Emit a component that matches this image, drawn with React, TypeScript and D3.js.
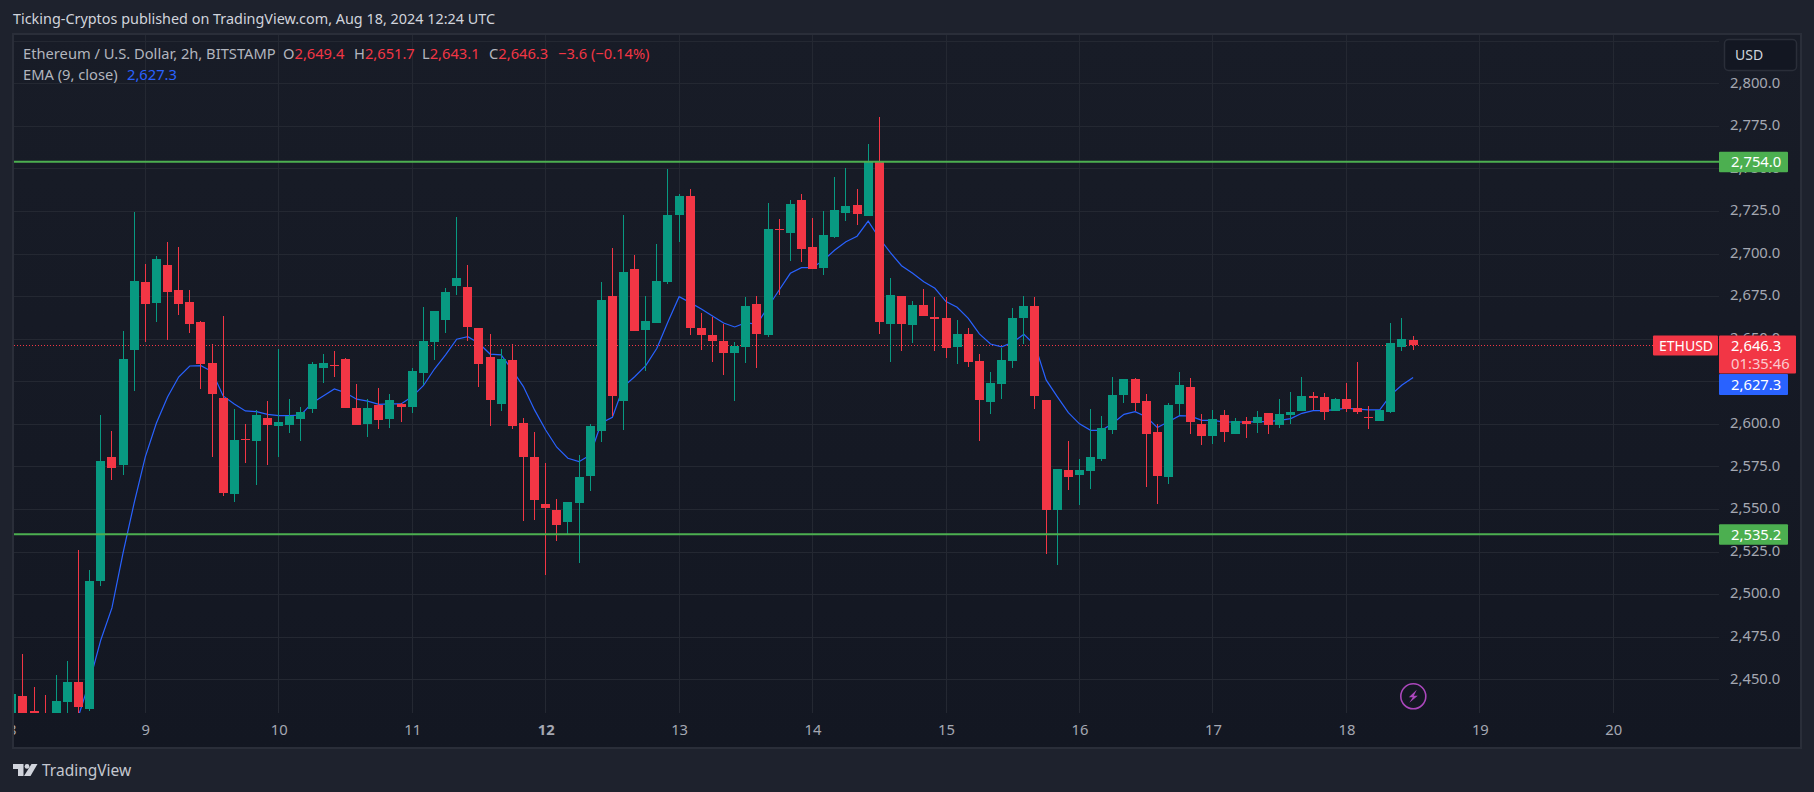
import React, { useEffect, useRef } from 'react';
import * as d3 from 'd3';

// 2h candles, index 0 is Aug 8 00:00, 12 candles a day
const opens = [
  2425, 2440.2, 2431.4, 2428, 2425, 2436.7, 2448.4, 2432.6, 2507.8, 2580.6, 2575.9, 2643.4,
  2683.3, 2671, 2693.3, 2678.6, 2671.6, 2659.8, 2635.8, 2615.2, 2558.8, 2591.1, 2590, 2603.5,
  2598.8, 2599.4, 2602.9, 2608.7, 2632.8, 2634.6, 2638.1, 2609.3, 2600, 2611.1, 2602.9, 2611.7,
  2609.9, 2629.9, 2648.1, 2661, 2681, 2680.4, 2656.3, 2639.3, 2611.7, 2637.5, 2600.5, 2580.6,
  2553, 2549.4, 2542.4, 2553.6, 2569.4, 2595.8, 2675.1, 2613.4, 2691, 2655.1, 2659.2, 2683.3,
  2722.7, 2733.8, 2656.3, 2652.2, 2648.7, 2641.6, 2645.2, 2670.4, 2652.2, 2714.4, 2712.1, 2731.5,
  2703.9, 2691.5, 2709.7, 2723.8, 2728.5, 2722.1, 2754, 2658.7, 2675.1, 2658.1, 2669.8, 2662.8,
  2662.2, 2645.2, 2652.8, 2636.9, 2612.9, 2623.4, 2636.9, 2662.2, 2669.2, 2614, 2549.4, 2572.9,
  2570, 2572.3, 2579.4, 2596.4, 2617, 2626.4, 2613.4, 2595.2, 2568.8, 2611.7, 2621.7, 2600,
  2592.9, 2605.2, 2594, 2601.7, 2600.5, 2606.4, 2599.4, 2605.2, 2607.6, 2616.4, 2615.8, 2607.6,
  2614.6, 2609.3, 2604, 2601.7, 2607, 2645.2, 2649.4,
];
const highs = [
  2441.4, 2464.9, 2445.5, 2440.8, 2452.6, 2460.8, 2526, 2514.2, 2605.2, 2595.8, 2654.6, 2724.4,
  2693.9, 2698.6, 2706.8, 2703.9, 2678.6, 2660.4, 2646.9, 2663.4, 2608.7, 2599.9, 2608.2, 2613.4,
  2644, 2614.6, 2609.9, 2636.3, 2641, 2642.8, 2638.7, 2623.4, 2614.6, 2621.1, 2617.6, 2612.3,
  2632.8, 2668.6, 2666.3, 2679.8, 2721.5, 2693.3, 2656.3, 2652.8, 2644, 2646.9, 2603.5, 2595.2,
  2577, 2555.9, 2554.1, 2581.7, 2600, 2683.3, 2703.3, 2722.7, 2699.2, 2675.1, 2705.6, 2749.7,
  2735, 2737.9, 2665.1, 2662.8, 2658.7, 2648.1, 2674.5, 2675.1, 2729.7, 2720.3, 2731.5, 2735,
  2720.9, 2725, 2745, 2750.3, 2737.9, 2764.4, 2780.2, 2685.7, 2675.1, 2672.2, 2679.2, 2674.5,
  2674.5, 2661, 2656.3, 2641, 2630.5, 2644.6, 2668.1, 2675.1, 2674.5, 2614, 2573.5, 2590,
  2579.4, 2608.7, 2604.6, 2627.5, 2626.4, 2626.9, 2617.6, 2600, 2612.3, 2630.5, 2626.9, 2605.8,
  2608.2, 2608.2, 2603.5, 2604, 2607.6, 2606.4, 2614.6, 2618.7, 2627.5, 2618.7, 2618.1, 2615.2,
  2624, 2636.3, 2610.5, 2608.2, 2659.2, 2662.2, 2651.7,
];
const lows = [
  2420, 2420, 2425, 2420, 2420, 2425, 2425, 2431.6, 2504.8, 2567.1, 2570, 2619.3,
  2648.1, 2659.8, 2649.3, 2663.9, 2653.4, 2620.5, 2580.6, 2557.7, 2554.1, 2577, 2564.1, 2575.9,
  2580.6, 2594.7, 2590, 2606.4, 2624, 2627.5, 2609.3, 2599.4, 2592.3, 2597, 2597.6, 2601.1,
  2606.4, 2622.8, 2637.5, 2653.4, 2675.7, 2648.7, 2621.7, 2598.8, 2607.6, 2597, 2543, 2543.6,
  2511.3, 2531.2, 2534.8, 2518.3, 2560.6, 2589.4, 2604.6, 2596.4, 2654.6, 2631.1, 2659.2, 2682.1,
  2706.8, 2652.2, 2643.4, 2636.3, 2628.7, 2613.4, 2635.8, 2632.8, 2651, 2675.7, 2695.7, 2695.1,
  2691, 2687.4, 2709.1, 2719.1, 2716.8, 2722.1, 2652.8, 2636.3, 2642.8, 2647.5, 2663.4, 2642.8,
  2638.7, 2635.2, 2633.4, 2590, 2605.8, 2614.6, 2632.8, 2646.9, 2608.7, 2523.6, 2517.1, 2561.2,
  2552.4, 2561.8, 2578.2, 2594, 2612.3, 2607.6, 2563, 2553, 2564.7, 2605.2, 2594, 2587.6,
  2588.2, 2589.4, 2594, 2591.7, 2594.7, 2594, 2597.6, 2600, 2607.6, 2608.2, 2602.3, 2607.6,
  2607, 2605.8, 2597, 2601.7, 2606.4, 2642.8, 2643.1,
];
const closes = [
  2441.4, 2425, 2428, 2425, 2437.3, 2448.4, 2433.8, 2507.8, 2578.2, 2574.1, 2638.1, 2683.9,
  2670.4, 2696.8, 2677.5, 2670.4, 2658.7, 2635.2, 2617.6, 2559.4, 2590.5, 2590.5, 2605.2, 2599.4,
  2601.1, 2604.6, 2607, 2635.2, 2635.8, 2634.2, 2609.3, 2599.4, 2609.3, 2602.3, 2614, 2609.9,
  2631.1, 2648.7, 2666.3, 2677.5, 2685.7, 2656.9, 2635.2, 2614, 2638.1, 2598.8, 2580.6, 2555.3,
  2550.6, 2540.6, 2554.1, 2568.8, 2598.8, 2672.8, 2616.4, 2689.2, 2654.6, 2660.4, 2683.9, 2722.7,
  2733.8, 2656.3, 2652.2, 2648.7, 2641.6, 2645.7, 2669.2, 2652.8, 2714.4, 2714, 2729.1, 2702.7,
  2691, 2710.9, 2725.6, 2728, 2723.3, 2754.4, 2659.8, 2675.7, 2658.7, 2669.8, 2663.4, 2661.6,
  2644.6, 2652.8, 2636.3, 2614, 2624, 2637.5, 2662.2, 2669.2, 2616.4, 2549.4, 2573.5, 2568.8,
  2572.9, 2580.6, 2597.6, 2617, 2626.4, 2612.3, 2594, 2569.4, 2611.1, 2622.8, 2601.1, 2592.9,
  2602.9, 2595.2, 2601.7, 2600, 2604, 2599.4, 2605.8, 2607, 2616.4, 2615.2, 2607, 2614.6,
  2608.7, 2607, 2603.6, 2608.2, 2647.5, 2649.9, 2646.3,
];

// EMA(9) starts at candle 6, the earlier part is below the pane
const emaStart = 6;
const emaValues = [
  2428.5, 2449, 2473.1, 2491.9, 2524.2, 2553.6, 2580.6, 2600.5, 2615.8, 2627.5, 2634, 2634.2,
  2630.7, 2616.4, 2611.7, 2607.6, 2607.2, 2605.6, 2604.8, 2604.8, 2605.2, 2612.3, 2616.4, 2620.5,
  2618.3, 2614.5, 2613.4, 2611.5, 2611.7, 2611.7, 2616, 2622.4, 2632.2, 2640.5, 2649.7, 2651.2,
  2647.3, 2641, 2640.5, 2631.6, 2621.9, 2608.2, 2596.4, 2586.3, 2579.8, 2577.8, 2581.7, 2600.5,
  2603.9, 2621.9, 2627.7, 2634.2, 2644.4, 2660, 2674.7, 2671.2, 2667.5, 2663.4, 2659.2, 2656.9,
  2659.4, 2658.5, 2668.8, 2678.6, 2688.4, 2691.7, 2691.7, 2696.2, 2702.1, 2707, 2710.2, 2719.1,
  2709, 2700.5, 2692.9, 2688.4, 2683.5, 2679.6, 2671.8, 2668.5, 2662, 2652.8, 2646.9, 2645.2,
  2647.9, 2652.6, 2646.3, 2625.8, 2616, 2606.6, 2600, 2596.2, 2596.2, 2600.4, 2605.6, 2607.2,
  2604.2, 2597.8, 2601.3, 2604.8, 2604.5, 2602.1, 2602.1, 2601.1, 2601.1, 2601.1, 2601.3, 2601.3,
  2602.1, 2603.1, 2606.2, 2607.8, 2607.8, 2608.4, 2609.2, 2608.7, 2608.2, 2608.2, 2617, 2622.8,
  2627.3,
];

const priceTicks = [2450, 2475, 2500, 2525, 2550, 2575, 2600, 2625, 2650, 2675, 2700, 2725, 2750, 2775, 2800];
const gridPrices = [...priceTicks, 2825];
const dayLabels = ['8', '9', '10', '11', '12', '13', '14', '15', '16', '17', '18', '19', '20'];
const levels = [2754.0, 2535.2];
const lastPrice = 2646.3;
const lastEma = 2627.3;

const FONT = "'Noto Sans', sans-serif";
const UP = '#089981';
const DOWN = '#f23645';
const LEVEL = '#4caf50';
const EMA = '#2962ff';
const GRID = '#242832';

const fmt = d3.format(',.1f');

const App = () => {
  const svgRef = useRef<SVGSVGElement>(null);

  useEffect(() => {
    const svg = d3.select(svgRef.current);
    svg.selectAll('*').remove();

    const pane = { left: 14, right: 1719, top: 35, bottom: 713 };

    const x = d3.scaleLinear().domain([12, 144]).range([145.3, 1613.3]);
    const y = d3.scaleLinear().domain([2450, 2800]).range([679.3, 83.3]);
    const dayIndex = dayLabels.map((_, i) => i * 12);

    const defs = svg.append('defs');
    const grad = defs.append('linearGradient').attr('id', 'paneBg').attr('x1', 0).attr('x2', 0).attr('y1', 0).attr('y2', 1);
    grad.append('stop').attr('offset', '0%').attr('stop-color', '#181c27');
    grad.append('stop').attr('offset', '100%').attr('stop-color', '#131722');
    defs.append('clipPath').attr('id', 'plot').append('rect')
      .attr('x', pane.left).attr('y', pane.top)
      .attr('width', pane.right - pane.left).attr('height', pane.bottom - pane.top);
    defs.append('clipPath').attr('id', 'frame').append('rect')
      .attr('x', pane.left).attr('y', pane.top).attr('width', 1787).attr('height', 712);

    // page and pane
    svg.append('rect').attr('width', 1814).attr('height', 792).attr('fill', '#1e222d');
    svg.append('rect').attr('x', 13).attr('y', 34).attr('width', 1788).attr('height', 714)
      .attr('fill', 'url(#paneBg)').attr('stroke', '#2a2e39').attr('stroke-width', 2);

    const plot = svg.append('g').attr('clip-path', 'url(#plot)');

    // grid
    plot.append('g').selectAll('line').data(gridPrices).enter().append('line')
      .attr('x1', pane.left).attr('x2', pane.right)
      .attr('y1', (d) => Math.round(y(d)) + 0.5).attr('y2', (d) => Math.round(y(d)) + 0.5)
      .attr('stroke', GRID);
    plot.append('g').selectAll('line').data(dayIndex).enter().append('line')
      .attr('y1', pane.top).attr('y2', pane.bottom)
      .attr('x1', (d) => Math.floor(x(d)) + 0.5).attr('x2', (d) => Math.floor(x(d)) + 0.5)
      .attr('stroke', GRID);

    // last price line goes under the candles
    plot.append('line')
      .attr('x1', pane.left).attr('x2', 1653)
      .attr('y1', Math.round(y(lastPrice)) + 0.5).attr('y2', Math.round(y(lastPrice)) + 0.5)
      .attr('stroke', DOWN).attr('stroke-dasharray', '1 2');

    const emaLine = d3.line<number>()
      .x((_, i) => x(i + emaStart))
      .y((d) => y(d));
    plot.append('path').datum(emaValues)
      .attr('fill', 'none').attr('stroke', EMA).attr('stroke-width', 1.2)
      .attr('d', emaLine);

    // candles
    const candles = plot.append('g').attr('shape-rendering', 'crispEdges')
      .selectAll('g').data(opens).enter().append('g')
      .attr('fill', (d, i) => (closes[i] >= d ? UP : DOWN));
    candles.append('rect')
      .attr('x', (_, i) => Math.floor(x(i)))
      .attr('width', 1)
      .attr('y', (_, i) => Math.round(y(highs[i])))
      .attr('height', (_, i) => Math.max(1, Math.round(y(lows[i])) - Math.round(y(highs[i]))));
    candles.append('rect')
      .attr('x', (_, i) => Math.floor(x(i)) - 4)
      .attr('width', 9)
      .attr('y', (d, i) => Math.round(y(Math.max(d, closes[i]))))
      .attr('height', (d, i) => Math.max(1, Math.round(y(Math.min(d, closes[i]))) - Math.round(y(Math.max(d, closes[i])))));

    // support and resistance
    plot.append('g').selectAll('line').data(levels).enter().append('line')
      .attr('x1', pane.left).attr('x2', pane.right)
      .attr('y1', (d) => y(d)).attr('y2', (d) => y(d))
      .attr('stroke', LEVEL).attr('stroke-width', 2);

    // price axis, labels sit a pixel above their grid line
    const priceAxis = svg.append('g')
      .attr('transform', `translate(1730,-1)`)
      .call(d3.axisRight(y).tickValues(priceTicks).tickFormat((d) => fmt(d as number)).tickSize(0).tickPadding(0));
    priceAxis.select('.domain').remove();
    priceAxis.selectAll('text')
      .attr('font-family', FONT).attr('font-size', 14.8).attr('fill', '#a5a8b2')
      .attr('text-anchor', 'start');

    // time axis
    const timeAxis = svg.append('g')
      .attr('clip-path', 'url(#frame)')
      .append('g')
      .attr('transform', `translate(0,${pane.bottom})`)
      .call(d3.axisBottom(x).tickValues(dayIndex).tickFormat((_, i) => dayLabels[i]).tickSize(0).tickPadding(11));
    timeAxis.select('.domain').remove();
    timeAxis.selectAll('text')
      .attr('font-family', FONT).attr('font-size', 14.8).attr('fill', '#a5a8b2')
      .attr('font-weight', (_, i) => (dayLabels[i] === '12' ? 700 : 400));

    // scale button
    svg.append('rect').attr('x', 1724.5).attr('y', 39.5).attr('width', 72).attr('height', 31).attr('rx', 4)
      .attr('fill', '#131722').attr('stroke', '#2a2e39').attr('stroke-width', 1.5);
    svg.append('text').attr('x', 1735).attr('y', 60).attr('font-family', FONT).attr('font-size', 14)
      .attr('fill', '#d1d4dc').text('USD');

    // price tags
    const tag = (px: number, py: number, w: number, h: number, fill: string) =>
      svg.append('rect').attr('x', px).attr('y', py).attr('width', w).attr('height', h).attr('fill', fill).attr('rx', 1);
    const label = (txt: string, px: number, py: number, fill = '#ffffff', size = 14.8) =>
      svg.append('text').attr('x', px).attr('y', py).attr('font-family', FONT).attr('font-size', size)
        .attr('fill', fill).text(txt);

    levels.forEach((v) => {
      tag(1719, y(v) - 10, 69, 20.5, LEVEL);
      label(fmt(v), 1731, y(v) + 5.5);
    });
    tag(1653, 335.5, 65, 20, DOWN);
    label('ETHUSD', 1659, 351, '#ffffff', 14);
    tag(1719, 335.5, 77, 38, DOWN);
    label(fmt(lastPrice), 1731, 350.5);
    label('01:35:46', 1731, 368.5, '#fbc9ce');
    tag(1719, 374, 69, 21, EMA);
    label(fmt(lastEma), 1731, 389.5);

    // title and legend
    svg.append('text').attr('x', 13).attr('y', 24).attr('font-family', FONT).attr('font-size', 14.4)
      .attr('fill', '#d1d4dc').text('Ticking-Cryptos published on TradingView.com, Aug 18, 2024 12:24 UTC');

    const legend = svg.append('text').attr('x', 23).attr('y', 59).attr('font-family', FONT).attr('font-size', 14.7).attr('fill', '#b2b5be');
    legend.append('tspan').text('Ethereum / U.S. Dollar, 2h, BITSTAMP');
    legend.append('tspan').attr('x', 283).text('O');
    legend.append('tspan').attr('fill', DOWN).text(fmt(opens[opens.length - 1]));
    legend.append('tspan').attr('x', 354).text('H');
    legend.append('tspan').attr('fill', DOWN).text(fmt(highs[highs.length - 1]));
    legend.append('tspan').attr('x', 422).text('L');
    legend.append('tspan').attr('fill', DOWN).text(fmt(lows[lows.length - 1]));
    legend.append('tspan').attr('x', 489).text('C');
    legend.append('tspan').attr('fill', DOWN).text(fmt(closes[closes.length - 1]));
    legend.append('tspan').attr('x', 558).attr('fill', DOWN).text('\u22123.6 (\u22120.14%)');

    const legend2 = svg.append('text').attr('x', 23).attr('y', 80).attr('font-family', FONT).attr('font-size', 14.7).attr('fill', '#b2b5be');
    legend2.append('tspan').text('EMA (9, close)');
    legend2.append('tspan').attr('x', 127).attr('fill', EMA).text(fmt(lastEma));

    // news flash icon
    const icon = svg.append('g').attr('transform', 'translate(1413.3,696.3)');
    icon.append('circle').attr('r', 12.5).attr('fill', 'none').attr('stroke', '#ab47bc').attr('stroke-width', 1.6);
    icon.append('path').attr('d', 'M3.5 -6.5 L-4.5 1 L-0.5 1 L-4 6.5 L4.5 -0.5 L0.5 -0.5 Z').attr('fill', '#ab47bc');

    // TradingView logo
    const logo = svg.append('g').attr('transform', 'translate(13,764)').attr('fill', '#d1d4dc');
    logo.append('path').attr('d', 'M0 0 H10.5 V12 H5 V5 H0 Z');
    logo.append('circle').attr('cx', 14).attr('cy', 2.4).attr('r', 2.4);
    logo.append('path').attr('d', 'M18.5 0 H24.5 L17.5 12 H11 Z');
    svg.append('text').attr('x', 42).attr('y', 776).attr('font-family', FONT).attr('font-size', 15.5)
      .attr('fill', '#c5c8d0').text('TradingView');
  }, []);

  return <svg ref={svgRef} width={1814} height={792} style={{ position: 'absolute', left: 0, top: 0, display: 'block' }} />;
};

export default App;
